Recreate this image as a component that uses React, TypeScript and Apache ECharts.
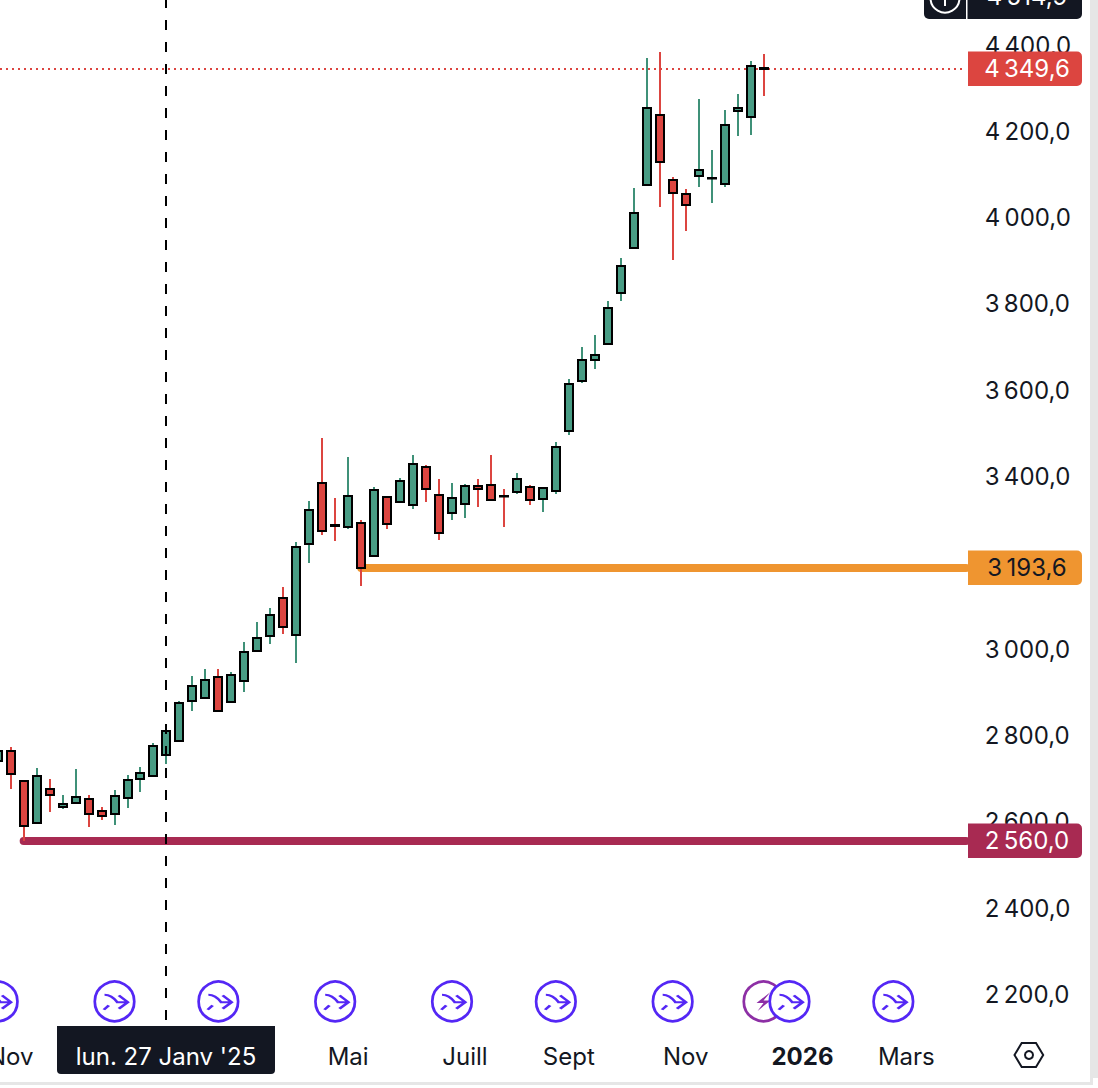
import React, { useEffect, useRef } from "react";
import * as echarts from "echarts";

// Weekly candles: [open, close, low, high]; index 0 is the week of 28 Oct 2024.
const CANDLES: number[][] = [
  [2745, 2770, 2736, 2777], [2768, 2715, 2680, 2777], [2699, 2594, 2560, 2699], [2601, 2710, 2601, 2729],
  [2680, 2666, 2627, 2703], [2638, 2645, 2634, 2668], [2648, 2662, 2648, 2726], [2657, 2622, 2592, 2668],
  [2629, 2618, 2608, 2638], [2622, 2664, 2597, 2678], [2659, 2701, 2636, 2713], [2703, 2719, 2675, 2731],
  [2712, 2780, 2712, 2787], [2759, 2815, 2738, 2831], [2791, 2879, 2791, 2884], [2884, 2919, 2861, 2942],
  [2891, 2933, 2891, 2958], [2940, 2861, 2861, 2958], [2882, 2944, 2882, 2951], [2930, 2998, 2905, 3021],
  [3000, 3030, 3000, 3067], [3035, 3083, 3016, 3100], [3123, 3056, 3039, 3148], [3037, 3241, 2972, 3253],
  [3248, 3327, 3204, 3348], [3389, 3278, 3269, 3494], [3292, 3290, 3255, 3355], [3287, 3359, 3283, 3450],
  [3297, 3193.6, 3151, 3304], [3220, 3373, 3220, 3380], [3357, 3294, 3283, 3357], [3345, 3394, 3345, 3401],
  [3338, 3433, 3329, 3454], [3426, 3375, 3345, 3431], [3362, 3274, 3257, 3399], [3320, 3355, 3304, 3389],
  [3341, 3382, 3308, 3387], [3382, 3375, 3334, 3399], [3385, 3350, 3350, 3454], [3360, 3359, 3287, 3375],
  [3369, 3399, 3364, 3413], [3380, 3350, 3338, 3385], [3352, 3378, 3322, 3378], [3371, 3473, 3364, 3484],
  [3510, 3619, 3501, 3630], [3626, 3675, 3621, 3705], [3675, 3686, 3654, 3732], [3712, 3795, 3712, 3811],
  [3830, 3892, 3811, 3911], [3934, 4015, 3934, 4073], [4080, 4259, 4080, 4375], [4242, 4133, 4029, 4388],
  [4092, 4062, 3906, 4099], [4059, 4034, 3974, 4071], [4101, 4115, 4076, 4280], [4096, 4097, 4038, 4161],
  [4082, 4219, 4076, 4254], [4252, 4259, 4194, 4291], [4238, 4356, 4196, 4368], [4352, 4349.6, 4286, 4384],
];

const WEEK_COUNT = 76;
const X_TICKS: Record<number, string> = { 1: "Nov", 27: "Mai", 36: "Juill", 44: "Sept", 53: "Nov", 62: "{b|2026}", 70: "Mars" };
const Y_MIN = 2000;
const Y_MAX = 4600;
const Y_STEP = 200;

// [start week index, price]
const ORANGE_LEVEL = [28, 3193.6];
const CRIMSON_LEVEL = [2, 2560];
const LAST_PRICE = 4349.6;
const CROSSHAIR_WEEK = 13;
const CROSSHAIR_FROM = 4513.6;
const CROSSHAIR_TO = 2145;

const ICON_PRICE = 2188.6;
const BLUE_ICON_WEEKS = [0, 9, 17, 26, 35, 43, 52, 61, 69];
const PURPLE_ICON_WEEKS = [59];

const GREEN = "#489c84";
const GREEN_WICK = "#3f9178";
const RED = "#dc4540";
const ORANGE = "#ef9530";
const CRIMSON = "#a82a52";
const BLUE = "#5427f5";
const PURPLE = "#8d2fa5";
const INK = "#131722";
const FONT = "Inter";
const FONT_SIZE = 24;

const fmt = (v: number, dec = 1) => {
  const [i, d] = v.toFixed(dec).split(".");
  return `${i.slice(0, -3)}\u2009${i.slice(-3)},${d}`;
};

const ARROW = "path://M-10 -6.7Q-3 -6.7 2.7 0.7L13.3 0.7M4.3 -6L13.3 0.7L4.3 7.3M-10.7 8.3L-5.7 4";
const BOLT = "path://M7 -9.5L-6 1.5L0.5 1.5L-5 9.5L7 -1L0.5 -1Z";

export default function App() {
  const ref = useRef<HTMLDivElement>(null);
  useEffect(() => {
    document.body.style.margin = "0";
    const chart = echarts.init(ref.current!, undefined, { renderer: "svg" });
    const BAND = 12.98;
    const LEFT = -2.3 - BAND / 2;
    const PX_PER_UNIT = 0.4316;
    const gridTop = 47 + (4400 - Y_MAX) * PX_PER_UNIT;
    const gridHeight = (Y_MAX - Y_MIN) * PX_PER_UNIT;
    const END_X = 966;

    const weeks = Array.from({ length: WEEK_COUNT }, (_, i) => {
      const d = new Date(Date.UTC(2024, 9, 28 + i * 7));
      return d.toISOString().slice(0, 10);
    });

    chart.setOption({
      animation: false,
      backgroundColor: "#ffffff",
      grid: { left: LEFT, top: gridTop, width: BAND * WEEK_COUNT, height: gridHeight, containLabel: false, outerBoundsMode: "none" },
      tooltip: { show: false },
      xAxis: {
        type: "category",
        data: weeks,
        boundaryGap: true,
        axisLine: { show: false },
        axisTick: { show: false },
        splitLine: { show: false },
        axisLabel: {
          show: true,
          inside: true,
          interval: 0,
          margin: 14,
          color: INK,
          fontFamily: FONT,
          fontSize: FONT_SIZE,
          formatter: (_: string, i: number) => X_TICKS[i] || "",
          rich: { b: { fontFamily: FONT, fontSize: FONT_SIZE, fontWeight: 700, color: INK } },
        },
      },
      yAxis: {
        type: "value",
        position: "right",
        min: Y_MIN,
        max: Y_MAX,
        interval: Y_STEP,
        axisLine: { show: false },
        axisTick: { show: false },
        splitLine: { show: false },
        axisLabel: {
          margin: 7,
          align: "left",
          verticalAlign: "bottom",
          lineHeight: 4,
          color: INK,
          fontFamily: FONT,
          fontSize: FONT_SIZE,
          showMinLabel: false,
          showMaxLabel: false,
          formatter: (v: number) => fmt(v),
        },
      },
      series: [
        {
          type: "custom",
          name: "levels",
          z: 1,
          silent: true,
          encode: { x: 0, y: 1 },
          data: [
            [0, LAST_PRICE, 0],
            [ORANGE_LEVEL[0], ORANGE_LEVEL[1], 1],
            [CRIMSON_LEVEL[0], CRIMSON_LEVEL[1], 2],
          ],
          renderItem: (_: any, api: any) => {
            const kind = api.value(2);
            const p = api.coord([api.value(0), api.value(1)]);
            const y = Math.round(p[1]);
            if (kind === 0) {
              return {
                type: "line",
                shape: { x1: 0, y1: y, x2: 964, y2: y },
                style: { stroke: RED, lineWidth: 2, lineDash: [2, 4], fill: null },
              };
            }
            return {
              type: "line",
              shape: { x1: p[0], y1: y, x2: END_X, y2: y },
              style: { stroke: kind === 1 ? ORANGE : CRIMSON, lineWidth: 8, lineCap: "round", fill: null },
            };
          },
        },
        {
          type: "custom",
          name: "candles",
          z: 2,
          silent: true,
          encode: { x: 0, y: [1, 2, 3, 4] },
          data: CANDLES.map((c, i) => [i, ...c]),
          renderItem: (_: any, api: any) => {
            const o = api.value(1);
            const c = api.value(2);
            const up = c >= o;
            const x = Math.round(api.coord([api.value(0), o])[0]);
            const yo = api.coord([api.value(0), o])[1];
            const yc = api.coord([api.value(0), c])[1];
            const yl = Math.round(api.coord([api.value(0), api.value(3)])[1]);
            const yh = Math.round(api.coord([api.value(0), api.value(4)])[1]);
            const top = Math.round(Math.min(yo, yc));
            const bottom = Math.round(Math.max(yo, yc));
            return {
              type: "group",
              children: [
                {
                  type: "rect",
                  shape: { x: x - 1, y: yh, width: 2, height: Math.max(yl - yh, 0) },
                  style: { fill: up ? GREEN_WICK : RED },
                },
                {
                  type: "rect",
                  shape: { x: x - 4, y: top, width: 8, height: Math.max(bottom - top, 0.5) },
                  style: { fill: up ? GREEN : RED, stroke: "#000000", lineWidth: 2 },
                },
              ],
            };
          },
        },
        {
          type: "custom",
          name: "crosshair",
          z: 3,
          silent: true,
          encode: { x: 0, y: 1 },
          data: [[CROSSHAIR_WEEK, CROSSHAIR_FROM, CROSSHAIR_TO]],
          renderItem: (_: any, api: any) => {
            const a = api.coord([api.value(0), api.value(1)]);
            const b = api.coord([api.value(0), api.value(2)]);
            const x = Math.round(a[0]);
            return {
              type: "line",
              shape: { x1: x, y1: a[1], x2: x, y2: b[1] },
              style: { stroke: "#000000", lineWidth: 2, lineDash: [10, 12], fill: null },
            };
          },
        },
        {
          type: "scatter",
          name: "purple",
          z: 4,
          silent: true,
          symbol: "circle",
          symbolSize: 39.5,
          itemStyle: { color: "#ffffff", borderColor: PURPLE, borderWidth: 2.7, opacity: 1 },
          data: PURPLE_ICON_WEEKS.map((w) => [w, ICON_PRICE]),
        },
        {
          type: "scatter",
          name: "bolt",
          z: 4,
          silent: true,
          symbol: BOLT,
          symbolSize: [14, 19],
          itemStyle: { color: PURPLE, opacity: 1 },
          data: PURPLE_ICON_WEEKS.map((w) => [w, ICON_PRICE]),
        },
        {
          type: "scatter",
          name: "blue",
          z: 5,
          silent: true,
          symbol: "circle",
          symbolSize: 39.5,
          itemStyle: { color: "#ffffff", borderColor: BLUE, borderWidth: 2.7, opacity: 1 },
          data: BLUE_ICON_WEEKS.map((w) => [w, ICON_PRICE]),
        },
        {
          type: "scatter",
          name: "arrow",
          z: 6,
          silent: true,
          symbol: ARROW,
          symbolSize: [24, 15],
          symbolOffset: [1.3, 0.8],
          itemStyle: { color: "transparent", borderColor: BLUE, borderWidth: 2.5, opacity: 1 },
          data: BLUE_ICON_WEEKS.map((w) => [w, ICON_PRICE]),
        },
      ],
    });

    const py = (v: number) => chart.convertToPixel({ yAxisIndex: 0 }, v) as number;
    const tag = (v: number, fill: string, color: string) => {
      const y = Math.round(py(v));
      return [
        { type: "rect", z: 50, shape: { x: 968, y: y - 17.5, width: 114, height: 34.5, r: [0, 5, 5, 0] }, style: { fill } },
        {
          type: "text", z: 51, x: 1027, y: y - 1,
          style: { text: fmt(v), fill: color, font: `${FONT_SIZE}px ${FONT}`, textAlign: "center", textVerticalAlign: "middle" },
        },
      ];
    };
    const gray = "#e6e6e6";
    chart.setOption({
      graphic: [
        { type: "rect", z: 40, shape: { x: 1090, y: 0, width: 8, height: 1078 }, style: { fill: gray } },
        { type: "rect", z: 40, shape: { x: 1090, y: 1078, width: 3, height: 7 }, style: { fill: gray } },
        { type: "rect", z: 40, shape: { x: 0, y: 1082, width: 1093, height: 3 }, style: { fill: gray } },
        { type: "rect", z: 41, shape: { x: 0, y: 1085, width: 1098, height: 3 }, style: { fill: "#ffffff" } },
        { type: "rect", z: 50, shape: { x: 924, y: -10, width: 42, height: 29, r: [0, 0, 0, 5] }, style: { fill: "#131722" } },
        { type: "rect", z: 50, shape: { x: 967.5, y: -10, width: 114.5, height: 29, r: [0, 0, 5, 0] }, style: { fill: "#131722" } },
        { type: "circle", z: 51, shape: { cx: 945, cy: -2, r: 14.5 }, style: { fill: null, stroke: "#ffffff", lineWidth: 2 } },
        { type: "line", z: 51, shape: { x1: 945, y1: -4, x2: 945, y2: 6 }, style: { stroke: "#ffffff", lineWidth: 2 } },
        {
          type: "text", z: 51, x: 1027, y: -4,
          style: { text: "4\u2009514,9", fill: "#ffffff", font: `${FONT_SIZE}px ${FONT}`, textAlign: "center", textVerticalAlign: "middle" },
        },
        ...tag(LAST_PRICE, RED, "#ffffff"),
        ...tag(ORANGE_LEVEL[1], ORANGE, INK),
        ...tag(CRIMSON_LEVEL[1], CRIMSON, "#ffffff"),
        { type: "rect", z: 50, shape: { x: 57, y: 1026, width: 218, height: 48, r: [0, 0, 4, 4] }, style: { fill: "#131722" } },
        {
          type: "text", z: 51, x: 166, y: 1056,
          style: { text: "lun. 27 Janv '25", fill: "#ffffff", font: `${FONT_SIZE}px ${FONT}`, textAlign: "center", textVerticalAlign: "middle" },
        },
        {
          type: "polygon", z: 50,
          shape: { points: [[1014.5, 1055], [1021.7, 1043], [1036, 1043], [1043.2, 1055], [1036, 1067], [1021.7, 1067]] },
          style: { fill: null, stroke: INK, lineWidth: 2 },
        },
        { type: "circle", z: 50, shape: { cx: 1029, cy: 1055, r: 4 }, style: { fill: null, stroke: INK, lineWidth: 2 } },
      ],
    });

    return () => chart.dispose();
  }, []);
  return <div ref={ref} style={{ position: "absolute", left: 0, top: 0, width: 1098, height: 1088 }} />;
}
